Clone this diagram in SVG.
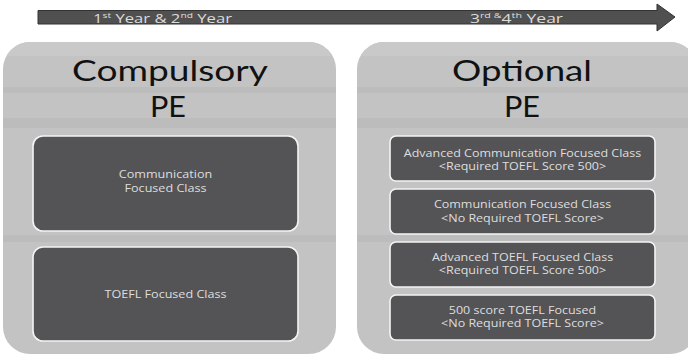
<svg xmlns="http://www.w3.org/2000/svg" width="688" height="357" viewBox="0 0 688 357">
  <style>
    .panel { fill: #c3c3c3; }
    .band-light { fill: #c9c9c9; }
    .band-dark { fill: #bcbcbc; }
    .title { font-family: Lato, "Liberation Sans", sans-serif; font-size: 29px; fill: #111111; text-anchor: middle; }
    .box { fill: #545457; stroke: #f4f4f4; stroke-width: 1.6; }
    .label { font-family: "Open Sans", "DejaVu Sans", sans-serif; font-size: 10.5px; fill: #dedede; text-anchor: middle; }
    .year { font-family: "Open Sans", "DejaVu Sans", sans-serif; font-size: 13px; fill: #dcdcdc; }
    .sup { font-size: 8px; }
  </style>
  <defs>
    <clipPath id="clipLeft">
      <rect x="3" y="42" width="333" height="312" rx="27" ry="27"/>
    </clipPath>
    <clipPath id="clipRight">
      <rect x="357" y="42" width="340" height="312" rx="27" ry="27"/>
    </clipPath>
  </defs>

  <!-- timeline arrow -->
  <g id="timeline">
    <path d="M38 10.5 H657 V4 L675 17 L657 31 V24 H38 Z" fill="#505050" stroke="#333333" stroke-width="1"/>
    <text class="year" x="93" y="23" textLength="139" lengthAdjust="spacingAndGlyphs">1<tspan class="sup" dy="-5">st</tspan><tspan dy="5"> Year &amp; 2</tspan><tspan class="sup" dy="-5">nd</tspan><tspan dy="5"> Year</tspan></text>
    <text class="year" x="470" y="23" textLength="93" lengthAdjust="spacingAndGlyphs">3<tspan class="sup" dy="-5">rd </tspan><tspan class="sup">&amp;</tspan><tspan dy="5">4</tspan><tspan class="sup" dy="-5">th</tspan><tspan dy="5"> Year</tspan></text>
  </g>

  <!-- left panel: compulsory -->
  <g id="panel-compulsory">
    <g clip-path="url(#clipLeft)">
      <rect class="panel" x="3" y="42" width="333" height="312"/>
      <rect class="band-light" x="3" y="42" width="333" height="14"/>
      <rect class="band-dark" x="3" y="87" width="333" height="6"/>
      <rect class="band-dark" x="3" y="118" width="333" height="10"/>
      <rect class="band-dark" x="3" y="235" width="333" height="7"/>
    </g>
    <text class="title" x="170" y="81" textLength="196" lengthAdjust="spacingAndGlyphs">Compulsory</text>
    <text class="title" x="168" y="117" textLength="36" lengthAdjust="spacingAndGlyphs">PE</text>
  </g>

  <g id="class-communication">
    <rect class="box" x="33" y="136" width="265" height="95" rx="10" ry="10"/>
    <g transform="translate(165.5 0) scale(1.2 1)">
      <text class="label" x="0" y="178">Communication<tspan x="0" dy="14">Focused Class</tspan></text>
    </g>
  </g>

  <g id="class-toefl">
    <rect class="box" x="33" y="247" width="265" height="94" rx="10" ry="10"/>
    <g transform="translate(165.5 0) scale(1.2 1)">
      <text class="label" x="0" y="298">TOEFL Focused Class</text>
    </g>
  </g>

  <!-- right panel: optional -->
  <g id="panel-optional">
    <g clip-path="url(#clipRight)">
      <rect class="panel" x="357" y="42" width="331" height="312"/>
      <rect class="band-light" x="357" y="42" width="331" height="14"/>
      <rect class="band-dark" x="357" y="87" width="331" height="6"/>
      <rect class="band-dark" x="357" y="118" width="331" height="10"/>
      <rect class="band-dark" x="357" y="235" width="331" height="7"/>
    </g>
    <text class="title" x="522" y="81" textLength="140" lengthAdjust="spacingAndGlyphs">Optional</text>
    <text class="title" x="522" y="117" textLength="36" lengthAdjust="spacingAndGlyphs">PE</text>
  </g>

  <g id="opt-advanced-communication">
    <rect class="box" x="390" y="136" width="265" height="45" rx="6" ry="6"/>
    <g transform="translate(522.5 0) scale(1.19 1)">
      <text class="label" x="0" y="157">Advanced Communication Focused Class<tspan x="0" dy="13">&lt;Required TOEFL Score 500&gt;</tspan></text>
    </g>
  </g>

  <g id="opt-communication">
    <rect class="box" x="390" y="189" width="265" height="45" rx="6" ry="6"/>
    <g transform="translate(522.5 0) scale(1.19 1)">
      <text class="label" x="0" y="208">Communication Focused Class<tspan x="0" dy="14">&lt;No Required TOEFL Score&gt;</tspan></text>
    </g>
  </g>

  <g id="opt-advanced-toefl">
    <rect class="box" x="390" y="242" width="265" height="45" rx="6" ry="6"/>
    <g transform="translate(522.5 0) scale(1.19 1)">
      <text class="label" x="0" y="261">Advanced TOEFL Focused Class<tspan x="0" dy="13">&lt;Required TOEFL Score 500&gt;</tspan></text>
    </g>
  </g>

  <g id="opt-toefl-500">
    <rect class="box" x="390" y="295" width="265" height="45" rx="6" ry="6"/>
    <g transform="translate(522.5 0) scale(1.19 1)">
      <text class="label" x="0" y="314">500 score TOEFL Focused<tspan x="0" dy="13">&lt;No Required TOEFL Score&gt;</tspan></text>
    </g>
  </g>
</svg>
